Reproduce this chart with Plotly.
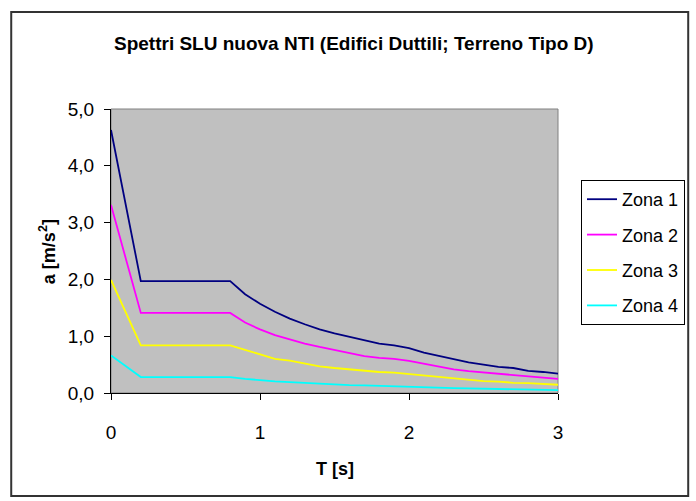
import plotly.graph_objects as go

# ---- data ----
T = [0.0, 0.2, 0.3, 0.4, 0.5, 0.6, 0.7, 0.8, 0.9, 1.0, 1.1, 1.2, 1.3, 1.4, 1.5,
     1.6, 1.7, 1.8, 1.9, 2.0, 2.1, 2.2, 2.3, 2.4, 2.5, 2.6, 2.7, 2.8, 2.9, 3.0]

zona1 = [4.63, 1.97, 1.97, 1.97, 1.97, 1.97, 1.97, 1.97, 1.74, 1.57, 1.43, 1.31,
         1.21, 1.12, 1.05, 0.99, 0.92, 0.87, 0.84, 0.79, 0.71, 0.65, 0.59, 0.54,
         0.50, 0.46, 0.44, 0.39, 0.37, 0.34]
zona2 = [3.31, 1.41, 1.41, 1.41, 1.41, 1.41, 1.41, 1.41, 1.24, 1.12, 1.02, 0.94,
         0.87, 0.81, 0.755, 0.70, 0.65, 0.62, 0.60, 0.565, 0.515, 0.46, 0.415, 0.385,
         0.36, 0.335, 0.315, 0.29, 0.27, 0.25]
zona3 = [1.99, 0.84, 0.84, 0.84, 0.84, 0.84, 0.84, 0.84, 0.76, 0.68, 0.60, 0.57,
         0.52, 0.47, 0.44, 0.415, 0.395, 0.37, 0.36, 0.335, 0.31, 0.285, 0.26, 0.24,
         0.21, 0.20, 0.18, 0.175, 0.155, 0.145]
zona4 = [0.66, 0.28, 0.28, 0.28, 0.28, 0.28, 0.28, 0.28, 0.25, 0.225, 0.205, 0.19,
         0.175, 0.16, 0.15, 0.14, 0.135, 0.125, 0.12, 0.11, 0.10, 0.095, 0.085, 0.08,
         0.075, 0.07, 0.065, 0.06, 0.055, 0.05]

series_names = ["Zona 1", "Zona 2", "Zona 3", "Zona 4"]
series_values = [zona1, zona2, zona3, zona4]
series_colors = ["#000080", "#FF00FF", "#FFFF00", "#00FFFF"]

x_ticks = [0, 1, 2, 3]
x_ticktext = ["0", "1", "2", "3"]
y_ticks = [0, 1, 2, 3, 4, 5]
y_ticktext = ["0,0", "1,0", "2,0", "3,0", "4,0", "5,0"]

title_text = "Spettri SLU nuova NTI (Edifici Duttili; Terreno Tipo D)"
x_title = "T [s]"
y_title = "a [m/s<sup>2</sup>]"

FONT = "Liberation Sans, Arial, sans-serif"

fig = go.Figure()
for name, vals, col in zip(series_names, series_values, series_colors):
    fig.add_trace(go.Scatter(x=T, y=vals, mode="lines", name=name,
                             legendgroup=name,
                             line=dict(color=col, width=1.8)))

W, H = 696, 501
L, R, TOP, B = 111, 137, 109, 108
pw, ph = W - L - R, H - TOP - B

def px_x(x):
    return (x - L) / pw

def px_y(y):
    return (H - B - y) / ph

fig.update_layout(
    width=W, height=H,
    margin=dict(l=L, r=R, t=TOP, b=B, pad=0),
    paper_bgcolor="white",
    plot_bgcolor="#C0C0C0",
    font=dict(family=FONT, size=18, color="black"),
    showlegend=True,
    legend=dict(x=px_x(581), y=px_y(180), xanchor="left", yanchor="top",
                bordercolor="#000000", borderwidth=1, bgcolor="white",
                font=dict(family=FONT, size=18, color="black"),
                tracegroupgap=9, itemwidth=30),
    xaxis=dict(range=[0, 3], tickvals=x_ticks, ticktext=x_ticktext,
               showgrid=False, zeroline=False, showline=True,
               linecolor="black", linewidth=1, ticks="outside", ticklen=6,
               tickcolor="black", tickwidth=1, ticklabelstandoff=16,
               tickfont=dict(family=FONT, size=19, color="black")),
    yaxis=dict(range=[0, 5], tickvals=y_ticks, ticktext=y_ticktext,
               showgrid=False, zeroline=False, showline=True,
               linecolor="black", linewidth=1, ticks="outside", ticklen=6,
               tickcolor="black", tickwidth=1, ticklabelstandoff=6,
               tickfont=dict(family=FONT, size=19, color="black")),
)

# plot area border (gray) and outer chart frame
fig.add_shape(type="rect", xref="paper", yref="paper", x0=0, y0=0, x1=1, y1=1,
              line=dict(color="#808080", width=1), layer="below")
fig.add_shape(type="rect", xref="paper", yref="paper",
              x0=px_x(11), y0=px_y(496), x1=px_x(689.5), y1=px_y(12),
              line=dict(color="#333333", width=2))

fig.add_annotation(text="<b>" + title_text + "</b>", xref="paper", yref="paper",
                   x=px_x(355), y=px_y(43), xanchor="center", yanchor="middle",
                   showarrow=False, font=dict(family=FONT, size=19, color="black"))
fig.add_annotation(text="<b>" + x_title + "</b>", xref="paper", yref="paper",
                   x=px_x(336), y=px_y(469), xanchor="center", yanchor="middle",
                   showarrow=False, font=dict(family=FONT, size=18, color="black"))
fig.add_annotation(text="<b>" + y_title + "</b>", xref="paper", yref="paper",
                   x=px_x(47), y=px_y(252), xanchor="center", yanchor="middle",
                   textangle=-90,
                   showarrow=False, font=dict(family=FONT, size=18, color="black"))

fig.write_html("out.html")
